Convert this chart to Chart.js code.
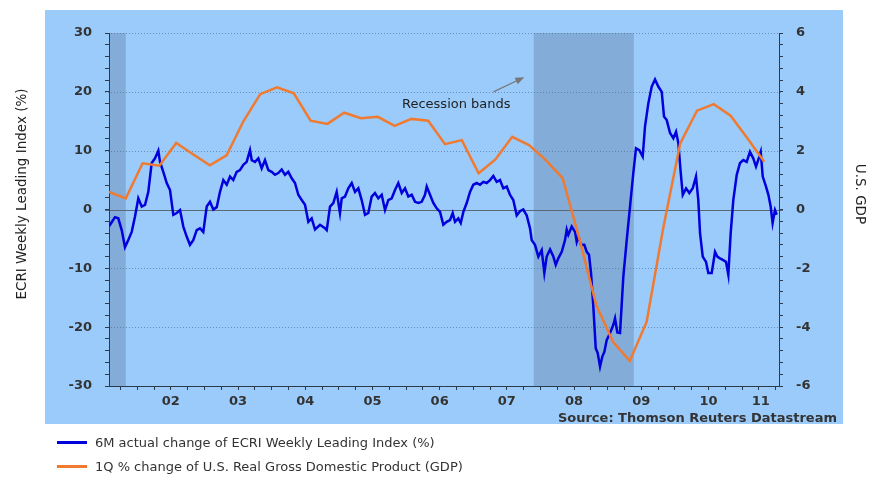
<!DOCTYPE html>
<html>
<head>
<meta charset="utf-8">
<script src="https://cdn.jsdelivr.net/npm/chart.js@4"></script>
<style>
  body { margin: 0; background: #fff; }
  #wrap { position: relative; width: 875px; height: 487px; }
  #legend { position: absolute; left: 57px; top: 430px; font: 13px 'DejaVu Sans', sans-serif; color: #333; }
  #legend .row { display: flex; align-items: center; height: 24px; }
  #legend .sw { width: 30px; height: 3px; margin-right: 8px; }
</style>
</head>
<body>
<div id="wrap">
  <canvas id="chart" width="875" height="487"></canvas>
  <div id="legend">
    <div class="row"><span class="sw" style="background:#0000dd"></span>6M actual change of ECRI Weekly Leading Index (%)</div>
    <div class="row"><span class="sw" style="background:#f07a30"></span>1Q % change of U.S. Real Gross Domestic Product (GDP)</div>
  </div>
</div>
<script>
// ECRI weekly leading index, 6M change (%), left axis
const ecriDates = [
  2001.584, 2001.669, 2001.718, 2001.769, 2001.818, 2001.867, 2001.918, 2001.967, 2002.016, 2002.067,
  2002.116, 2002.165, 2002.215, 2002.265, 2002.314, 2002.339, 2002.388, 2002.439, 2002.488, 2002.537,
  2002.587, 2002.637, 2002.686, 2002.736, 2002.785, 2002.834, 2002.885, 2002.934, 2002.983, 2003.034,
  2003.083, 2003.132, 2003.183, 2003.232, 2003.281, 2003.332, 2003.381, 2003.430, 2003.480, 2003.529,
  2003.579, 2003.629, 2003.678, 2003.704, 2003.753, 2003.802, 2003.852, 2003.901, 2003.951, 2004.001,
  2004.050, 2004.099, 2004.150, 2004.199, 2004.248, 2004.299, 2004.348, 2004.397, 2004.448, 2004.497,
  2004.546, 2004.596, 2004.646, 2004.720, 2004.794, 2004.820, 2004.869, 2004.918, 2004.968, 2005.017,
  2005.043, 2005.092, 2005.141, 2005.192, 2005.241, 2005.290, 2005.340, 2005.390, 2005.439, 2005.489,
  2005.538, 2005.587, 2005.638, 2005.687, 2005.736, 2005.787, 2005.836, 2005.885, 2005.936, 2005.985,
  2006.034, 2006.084, 2006.134, 2006.183, 2006.233, 2006.282, 2006.308, 2006.357, 2006.406, 2006.456,
  2006.506, 2006.555, 2006.605, 2006.654, 2006.694, 2006.729, 2006.778, 2006.814, 2006.853, 2006.903,
  2006.952, 2007.001, 2007.052, 2007.101, 2007.150, 2007.200, 2007.250, 2007.299, 2007.349, 2007.398,
  2007.447, 2007.498, 2007.547, 2007.596, 2007.647, 2007.696, 2007.745, 2007.796, 2007.845, 2007.870,
  2007.919, 2007.969, 2008.019, 2008.058, 2008.093, 2008.143, 2008.192, 2008.228, 2008.266, 2008.317,
  2008.366, 2008.391, 2008.415, 2008.466, 2008.515, 2008.540, 2008.564, 2008.604, 2008.653, 2008.689,
  2008.723, 2008.753, 2008.787, 2008.823, 2008.852, 2008.887, 2008.921, 2008.951, 2008.986, 2009.036,
  2009.085, 2009.110, 2009.144, 2009.184, 2009.209, 2009.233, 2009.284, 2009.333, 2009.382, 2009.422,
  2009.471, 2009.522, 2009.556, 2009.605, 2009.656, 2009.705, 2009.754, 2009.805, 2009.839, 2009.879,
  2009.929, 2009.978, 2010.018, 2010.052, 2010.088, 2010.118, 2010.167, 2010.216, 2010.266, 2010.315,
  2010.349, 2010.375, 2010.415, 2010.464, 2010.498, 2010.549, 2010.598, 2010.632, 2010.672, 2010.721,
  2010.761, 2010.796, 2010.831, 2010.870, 2010.921, 2010.970, 2011.019, 2011.069, 2011.118, 2011.167,
  2011.208, 2011.257, 2011.278, 2011.308, 2011.357, 2011.392, 2011.426, 2011.455, 2011.490, 2011.516
]
const ecriValues = [
  -2.8, -1.3, -1.5, -3.5, -6.4, -5.2, -3.8, -1.2, 1.9, 0.5,
  0.8, 3.0, 7.9, 8.7, 10.0, 8.1, 6.4, 4.5, 3.3, -0.9,
  -0.6, -0.1, -2.9, -4.6, -6.0, -5.2, -3.5, -3.2, -3.8, 0.5,
  1.3, 0.0, 0.4, 3.0, 5.0, 4.2, 5.6, 5.0, 6.4, 6.7,
  7.6, 8.1, 10.1, 8.4, 8.1, 8.7, 7.0, 8.4, 6.7, 6.4,
  5.9, 6.2, 6.8, 5.9, 6.4, 5.3, 4.5, 2.5, 1.6, 0.8,
  -2.1, -1.5, -3.4, -2.6, -3.2, -3.5, 0.5, 1.1, 3.0, -0.6,
  1.9, 2.2, 3.6, 4.5, 3.0, 3.6, 1.6, -0.9, -0.6, 2.2,
  2.8, 1.9, 2.5, -0.1, 1.6, 1.9, 3.3, 4.5, 2.8, 3.6,
  2.2, 2.5, 1.3, 1.1, 1.3, 2.5, 3.9, 2.5, 1.1, 0.2,
  -0.4, -2.6, -2.1, -1.8, -0.6, -2.1, -1.5, -2.3, -0.4, 1.1,
  3.0, 4.2, 4.5, 4.2, 4.7, 4.5, 5.0, 5.7, 4.7, 5.0,
  3.6, 3.9, 2.5, 1.6, -1.0, -0.3, 0.0, -1.0, -3.2, -5.2,
  -6.0, -8.0, -6.9, -10.8, -8.0, -6.8, -8.0, -9.4, -8.3, -7.2,
  -5.2, -3.4, -4.3, -2.9, -3.8, -5.5, -4.6, -6.0, -6.0, -7.2,
  -7.7, -10.8, -16.5, -23.6, -24.4, -26.7, -25.0, -24.2, -22.2, -21.0,
  -19.6, -18.5, -20.9, -21.0, -16.2, -11.5, -5.2, 0.5, 6.2, 10.4,
  10.1, 9.0, 14.1, 18.0, 20.9, 22.1, 20.9, 20.0, 15.8, 15.2,
  13.0, 12.1, 13.2, 11.3, 6.2, 2.5, 3.6, 2.8, 3.6, 5.6,
  1.6, -4.0, -8.0, -8.9, -10.8, -10.8, -7.2, -8.0, -8.3, -8.6,
  -8.9, -11.1, -4.0, 1.6, 5.9, 7.9, 8.4, 8.1, 9.8, 8.7,
  7.3, 9.0, 9.8, 5.6, 3.9, 2.5, 0.5, -2.3, -0.1, -0.9
]

// US real GDP, 1Q % change, right axis
const gdpQuarters = [
  '2001Q3', '2001Q4', '2002Q1', '2002Q2', '2002Q3', '2002Q4', '2003Q1', '2003Q2', '2003Q3', '2003Q4',
  '2004Q1', '2004Q2', '2004Q3', '2004Q4', '2005Q1', '2005Q2', '2005Q3', '2005Q4', '2006Q1', '2006Q2',
  '2006Q3', '2006Q4', '2007Q1', '2007Q2', '2007Q3', '2007Q4', '2008Q1', '2008Q2', '2008Q3', '2008Q4',
  '2009Q1', '2009Q2', '2009Q3', '2009Q4', '2010Q1', '2010Q2', '2010Q3', '2010Q4', '2011Q1', '2011Q2'
]
const gdpValues = [
  0.60, 0.38, 1.57, 1.49, 2.26, 1.88, 1.50, 1.84, 3.00, 3.92,
  4.15, 3.95, 3.02, 2.91, 3.29, 3.10, 3.15, 2.84, 3.08, 3.02,
  2.22, 2.36, 1.23, 1.70, 2.47, 2.19, 1.68, 1.07, -1.00, -3.25,
  -4.50, -5.15, -3.82, -0.60, 2.25, 3.36, 3.58, 3.19, 2.42, 1.62
]

// recession periods (decimal years)
const recessions = [[2001.58, 2001.83], [2007.90, 2009.39]]

// x axis labels, centred in the visible part of each year
const xLabels = ['02', '03', '04', '05', '06', '07', '08', '09', '10', '11']
const xLabelPos = [2002.5, 2003.5, 2004.5, 2005.5, 2006.5, 2007.5, 2008.5, 2009.5, 2010.5, 2011.28]
const xMin = 2001.58
const xMax = 2011.55

const gridValues = [30, 20, 10, 0, -10, -20]
const note = { text: 'Recession bands', at: [2005.94, 17.2], from: [2007.30, 20.0], to: [2007.76, 22.5] }

const quarterOf = (q) => Number(q.slice(0, 4)) + (Number(q.slice(5)) - 1) * 0.25 + 0.08
const quarterTicks = []
for (let v = 2001.75; v <= 2011.5 + 1e-9; v += 0.25) quarterTicks.push(Math.round(v * 100) / 100)
const isQuarter = (v) => quarterTicks.some(q => Math.abs(q - v) < 1e-6)

const axisColor = '#2b3b4b'
const tickFont = { family: "'DejaVu Sans', sans-serif", size: 13, weight: 'bold' }

const decor = {
  id: 'decor',
  beforeDraw(chart) {
    const ctx = chart.ctx
    const a = chart.chartArea
    const x = chart.scales.x
    const y = chart.scales.y
    ctx.save()
    ctx.fillStyle = '#fff'
    ctx.fillRect(0, 0, chart.width, chart.height)
    // blue panel
    ctx.fillStyle = '#9acbfa'
    ctx.fillRect(45, 10, 798, 414)
    // recession bands
    ctx.fillStyle = 'rgba(80,105,140,0.3)'
    recessions.forEach(([s, e]) => {
      const x0 = x.getPixelForValue(s)
      const x1 = x.getPixelForValue(e)
      ctx.fillRect(x0, a.top, x1 - x0, a.bottom - a.top)
    })
    // horizontal grid
    gridValues.forEach(v => {
      const py = Math.round(y.getPixelForValue(v)) + 0.5
      ctx.beginPath()
      if (v === 0) {
        ctx.setLineDash([])
        ctx.strokeStyle = '#5a6878'
      } else {
        ctx.setLineDash([1, 2])
        ctx.strokeStyle = 'rgba(70,100,140,0.6)'
      }
      ctx.lineWidth = 1
      ctx.moveTo(a.left - 4, py)
      ctx.lineTo(a.right + 4, py)
      ctx.stroke()
    })
    ctx.restore()
  },
  afterDraw(chart) {
    const ctx = chart.ctx
    const x = chart.scales.x
    const y = chart.scales.y
    ctx.save()
    ctx.fillStyle = '#222'
    ctx.font = "13.5px 'DejaVu Sans', sans-serif"
    ctx.textAlign = 'center'
    ctx.textBaseline = 'middle'
    // axis titles
    ctx.save()
    ctx.translate(22, 194)
    ctx.rotate(-Math.PI / 2)
    ctx.fillText('ECRI Weekly Leading Index (%)', 0, 0)
    ctx.restore()
    ctx.save()
    ctx.translate(859, 194)
    ctx.rotate(Math.PI / 2)
    ctx.fillText('U.S. GDP', 0, 0)
    ctx.restore()
    // source
    ctx.fillStyle = '#333'
    ctx.font = "bold 13px 'DejaVu Sans', sans-serif"
    ctx.textAlign = 'right'
    ctx.textBaseline = 'alphabetic'
    ctx.fillText('Source: Thomson Reuters Datastream', 837, 422)
    // annotation
    ctx.fillStyle = '#222'
    ctx.font = "13px 'DejaVu Sans', sans-serif"
    ctx.textAlign = 'left'
    ctx.fillText(note.text, x.getPixelForValue(note.at[0]), y.getPixelForValue(note.at[1]))
    const x0 = x.getPixelForValue(note.from[0]), y0 = y.getPixelForValue(note.from[1])
    const x1 = x.getPixelForValue(note.to[0]), y1 = y.getPixelForValue(note.to[1])
    const ang = Math.atan2(y1 - y0, x1 - x0)
    ctx.strokeStyle = '#777'
    ctx.fillStyle = '#777'
    ctx.lineWidth = 1.2
    ctx.beginPath()
    ctx.moveTo(x0, y0)
    ctx.lineTo(x1 - 6 * Math.cos(ang), y1 - 6 * Math.sin(ang))
    ctx.stroke()
    ctx.beginPath()
    ctx.moveTo(x1, y1)
    ctx.lineTo(x1 - 9 * Math.cos(ang) + 3.5 * Math.sin(ang), y1 - 9 * Math.sin(ang) - 3.5 * Math.cos(ang))
    ctx.lineTo(x1 - 9 * Math.cos(ang) - 3.5 * Math.sin(ang), y1 - 9 * Math.sin(ang) + 3.5 * Math.cos(ang))
    ctx.closePath()
    ctx.fill()
    ctx.restore()
  }
}

new Chart(document.getElementById('chart'), {
  type: 'line',
  data: {
    datasets: [
      {
        label: '1Q % change of U.S. Real Gross Domestic Product (GDP)',
        data: gdpQuarters.map((q, i) => ({ x: quarterOf(q), y: gdpValues[i] })),
        yAxisID: 'y1',
        borderColor: '#f07a30',
        borderWidth: 2.5
      },
      {
        label: '6M actual change of ECRI Weekly Leading Index (%)',
        data: ecriDates.map((d, i) => ({ x: d, y: ecriValues[i] })),
        yAxisID: 'y',
        borderColor: '#0000dd',
        borderWidth: 2.5
      }
    ]
  },
  options: {
    responsive: false,
    animation: false,
    devicePixelRatio: 1,
    layout: { padding: { top: 33, left: 0, right: 0, bottom: 0 } },
    elements: { point: { radius: 0 }, line: { tension: 0 } },
    plugins: { legend: { display: false }, tooltip: { enabled: false } },
    events: [],
    scales: {
      x: {
        type: 'linear',
        min: xMin,
        max: xMax,
        afterFit: (s) => { s.height = 101 },
        afterBuildTicks: (s) => {
          const vals = quarterTicks.concat(xLabelPos.filter(p => !isQuarter(p))).sort((a, b) => a - b)
          s.ticks = vals.map(v => ({ value: v }))
        },
        grid: {
          drawOnChartArea: false,
          tickLength: 4,
          tickColor: (c) => (c.tick && isQuarter(c.tick.value)) ? axisColor : 'rgba(0,0,0,0)'
        },
        border: { color: axisColor, width: 1 },
        ticks: {
          autoSkip: false,
          maxRotation: 0,
          padding: 4,
          color: '#333',
          font: tickFont,
          callback: (v) => {
            const i = xLabelPos.findIndex(p => Math.abs(p - v) < 1e-6)
            return i >= 0 ? xLabels[i] : ''
          }
        }
      },
      y: {
        position: 'left',
        min: -30,
        max: 30,
        afterFit: (s) => { s.width = 109 },
        grid: { drawOnChartArea: false, tickLength: 4, tickColor: axisColor },
        border: { color: axisColor, width: 1 },
        ticks: {
          stepSize: 2,
          autoSkip: false,
          padding: 13,
          color: '#333',
          font: tickFont,
          callback: (v) => (Math.round(v) % 10 === 0 ? String(Math.round(v)) : '')
        }
      },
      y1: {
        position: 'right',
        min: -6,
        max: 6,
        afterFit: (s) => { s.width = 96 },
        grid: { drawOnChartArea: false, tickLength: 4, tickColor: axisColor },
        border: { color: axisColor, width: 1 },
        ticks: {
          stepSize: 0.4,
          autoSkip: false,
          padding: 13,
          color: '#333',
          font: tickFont,
          callback: (v) => (Math.round(v * 10) % 20 === 0 ? String(Math.round(v)) : '')
        }
      }
    }
  },
  plugins: [decor]
})
</script>
</body>
</html>
